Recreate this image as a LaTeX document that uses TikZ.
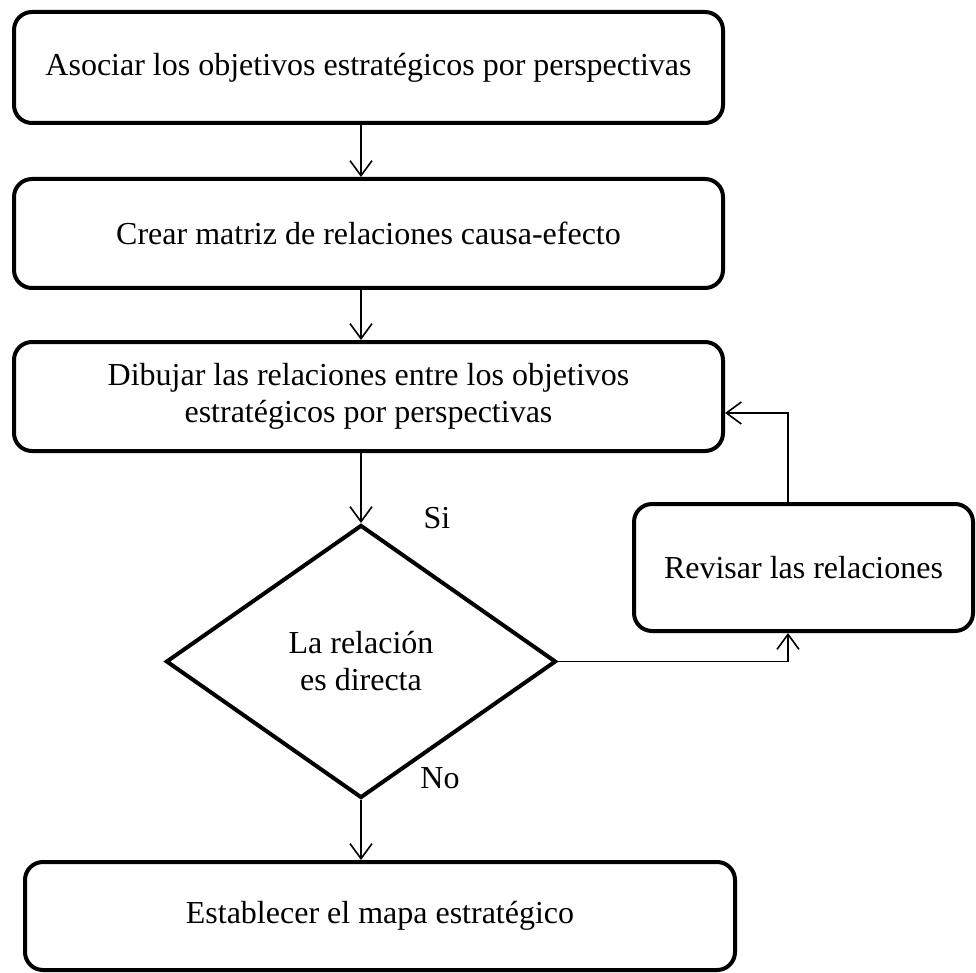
\documentclass[tikz,border=0pt]{standalone}
\usepackage{fontspec}
\setmainfont{Liberation Serif}
\usetikzlibrary{shapes.geometric,arrows.meta}
\begin{document}
\begin{tikzpicture}[x=1pt,y=-1pt,
  font=\fontsize{32}{37}\selectfont,
  stepbox/.style={draw, line width=4pt, rounded corners=18pt, inner sep=0pt, align=center},
  decision/.style={draw, diamond, line width=4pt, inner sep=0pt},
  conn/.style={line width=1.6pt},
  arr/.style={conn, -{Straight Barb[length=15pt,width=22pt,line width=1.6pt]}},
  lbl/.style={inner sep=0pt}]
\useasboundingbox (0,0) rectangle (976,973);

% process steps
\node[stepbox, minimum width=709pt, minimum height=111pt] (b1) at (368.5,67.5)
  {Asociar los objetivos estratégicos por perspectivas};
\node[stepbox, minimum width=709pt, minimum height=109pt] (b2) at (368.5,233.5)
  {Crear matriz de relaciones causa-efecto};
\node[stepbox, minimum width=709pt, minimum height=109pt] (b3) at (368.5,396.5)
  {Dibujar las relaciones entre los objetivos\\estratégicos por perspectivas};
\node[stepbox, minimum width=339pt, minimum height=127pt] (rev) at (803.5,567.5)
  {Revisar las relaciones};
\node[stepbox, minimum width=710pt, minimum height=108pt] (b4) at (380,916)
  {Establecer el mapa estratégico};

% decision
\node[decision, minimum width=390pt, minimum height=273pt] (dm) at (361,661.5) {};
\node[lbl, align=center] (dmtext) at (dm.center) {La relación\\es directa};
\node[lbl] (si) at (437,518) {Si};
\node[lbl] (no) at (440,778) {No};

% connectors
\draw[arr] (b1.south -| dm.north) -- (b2.north -| dm.north);
\draw[arr] (b2.south -| dm.north) -- (b3.north -| dm.north);
\draw[arr] (b3.south -| dm.north) -- (dm.north);
\draw[arr] (dm.south) -- (b4.north -| dm.south);
\coordinate (turn) at (788,661.5);
\draw[arr] (dm.east) -- (turn) -- (rev.south -| turn);
\coordinate (back) at (788,413);
\draw[arr] (rev.north -| turn) -- (back) -- (back -| b3.east);
\end{tikzpicture}
\end{document}
